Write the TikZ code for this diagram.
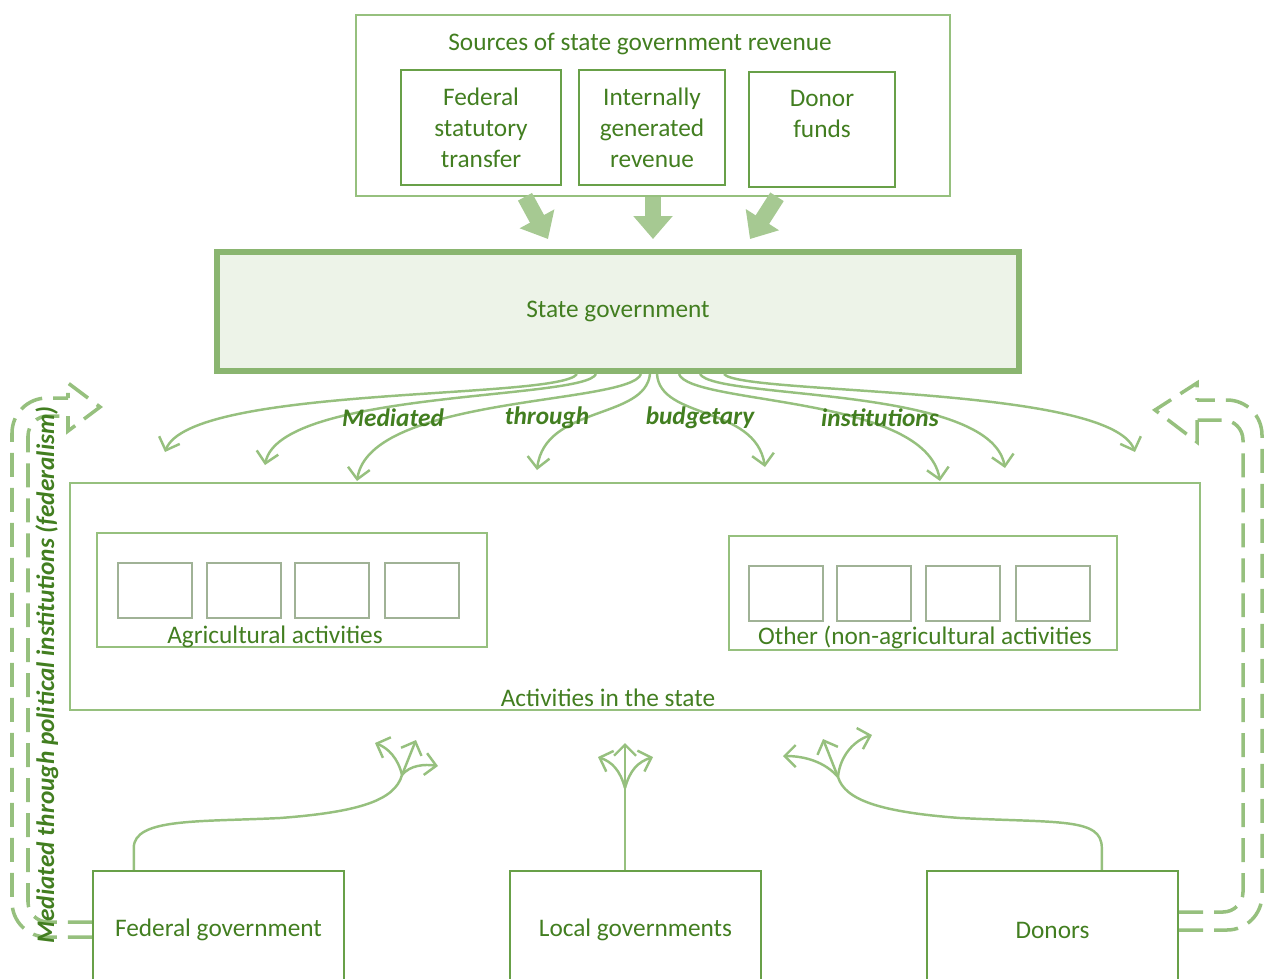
\documentclass[tikz,border=0pt]{standalone}
\usepackage{fontspec}
\setmainfont{Carlito}
\usetikzlibrary{arrows.meta,calc}
\definecolor{txtgreen}{RGB}{66,126,32}
\definecolor{linegreen}{RGB}{104,160,72}
\definecolor{palegreen}{RGB}{150,192,126}
\definecolor{fatgreen}{RGB}{166,201,146}
\definecolor{sgfill}{RGB}{237,243,232}
\definecolor{sgline}{RGB}{138,181,112}
\definecolor{cellgray}{RGB}{160,178,150}
\newcommand\mainfnt{\fontsize{14.4}{17.6}\selectfont}
\tikzset{>={Straight Barb[length=0.22cm,width=0.44cm]}}
\tikzset{
  lbl/.style = {text=txtgreen, font=\mainfnt, inner sep=0},
  medlbl/.style = {text=txtgreen, font=\mainfnt\bfseries\itshape, inner sep=0},
  outerbox/.style = {draw=palegreen, line width=0.9pt, inner sep=0},
  srcbox/.style = {draw=linegreen, line width=1.3pt, align=center, text=txtgreen, font=\mainfnt, inner sep=0},
  sgbox/.style = {draw=sgline, fill=sgfill, line width=3.4pt, text=txtgreen, font=\mainfnt, inner sep=0},
  actbox/.style = {draw=palegreen, line width=0.9pt, inner sep=0},
  cell/.style = {draw=cellgray, line width=0.9pt, minimum width=1.48cm, minimum height=1.1cm, inner sep=0},
  govbox/.style = {draw=linegreen, line width=1.4pt, text=txtgreen, font=\mainfnt, minimum width=5.02cm, minimum height=2.36cm, inner sep=0},
  flow/.style = {draw=palegreen, line width=1.4pt},
  fatarrow/.style = {draw=fatgreen, line width=0.32cm, -{Triangle[length=0.46cm,width=0.76cm]}},
  dasharrow/.style = {draw=palegreen, line width=2pt, dash pattern=on 0.48cm off 0.22cm}
}

\begin{document}
\begin{tikzpicture}[x=0.02cm, y=-0.02cm]
  \useasboundingbox (0,0) rectangle (1269,978);
  % sources of revenue
  \node (src) at (653,105.5) [outerbox, minimum width=11.88cm, minimum height=3.62cm] {};
  \node (srctitle) at (640,44) [lbl] {Sources of state government revenue};
  \node (fst) at (481,127.5) [srcbox, minimum width=3.2cm, minimum height=2.3cm] {Federal\\statutory\\transfer};
  \node (igr) at (652,127.5) [srcbox, minimum width=2.92cm, minimum height=2.3cm] {Internally\\generated\\revenue};
  \node (don) at (822,129.5) [srcbox, minimum width=2.92cm, minimum height=2.3cm] {Donor\\funds\\[-5pt]\strut};
  % state government
  \node (sg) at (618,311.5) [sgbox, minimum width=16.04cm, minimum height=2.38cm] {State government};
  \draw[fatarrow] ($(src.south)+(-128,0)$) -- ($(sg.north)+(-70,-10)$);
  \draw[fatarrow] (src.south) -- ($(sg.north)+(35,-10)$);
  \draw[fatarrow] ($(src.south)+(124,0)$) -- ($(sg.north)+(132,-10)$);
  % activities
  \node (act) at (635,596.5) [actbox, minimum width=22.6cm, minimum height=4.54cm] {};
  \node (actlbl) at (608,698) [lbl] {Activities in the state};
  \node (agr) at (292,590) [actbox, minimum width=7.8cm, minimum height=2.28cm] {};
  \foreach \x [count=\i] in {155,244,332,422}
    \node (agr\i) at (\x,590.5) [cell] {};
  \node (agrlbl) at (275,637) [lbl] {Agricultural activities};
  \node (oth) at (923,593) [actbox, minimum width=7.76cm, minimum height=2.28cm] {};
  \foreach \x [count=\i] in {786,874,963,1053}
    \node (oth\i) at (\x,593.5) [cell] {};
  \node (othlbl) at (925,637) [lbl] {Other (non-agricultural activities};
  % budgetary flows
  \coordinate (tip1) at (165,452);
  \coordinate (tip2) at (265,465);
  \coordinate (tip3) at (357,481);
  \coordinate (tip4) at (537,470);
  \coordinate (tip5) at (765,467);
  \coordinate (tip6) at (940,481);
  \coordinate (tip7) at (1005,468);
  \coordinate (tip8) at (1135,452);
  \draw[flow,->] ($(sg.south)+(-41,0)$) .. controls (560,400) and (190,385) .. (tip1);
  \draw[flow,->] ($(sg.south)+(-22,0)$) .. controls (585,400) and (280,390) .. (tip2);
  \draw[flow,->] ($(sg.south)+(23,0)$) .. controls (630,405) and (370,395) .. (tip3);
  \draw[flow,->] ($(sg.south)+(32,0)$) .. controls (645,420) and (545,405) .. (tip4);
  \draw[flow,->] ($(sg.south)+(39,0)$) .. controls (660,420) and (755,405) .. (tip5);
  \draw[flow,->] ($(sg.south)+(61,0)$) .. controls (690,405) and (925,395) .. (tip6);
  \draw[flow,->] ($(sg.south)+(82,0)$) .. controls (715,400) and (990,385) .. (tip7);
  \draw[flow,->] ($(sg.south)+(106,0)$) .. controls (740,395) and (1110,385) .. (tip8);
  \node (lmed) at (393,418) [medlbl] {Mediated};
  \node (lthr) at (547,418) [medlbl] {through};
  \node (lbud) at (700,418) [medlbl] {budgetary};
  \node (lins) at (880,418) [medlbl] {institutions};
  % other actors
  \node (fg) at (218.5,930) [govbox] {Federal government};
  \node (lg) at (635.5,930) [govbox] {Local governments};
  \node (dn) at (1052.5,930) [govbox] {Donors};
  \coordinate (fgsplit) at (402,775);
  \draw[flow] ($(fg.north west)+(42,0)$) -- ++(0,-22) .. controls +(0,-30) and (200,822) .. (280,818) .. controls (360,812) and (395,800) .. (fgsplit);
  \draw[flow,->] (fgsplit) .. controls (398,758) and (388,748) .. (375,743);
  \draw[flow,->] (fgsplit) -- (416,740);
  \draw[flow,->] (fgsplit) .. controls (410,765) and (425,764) .. (438,766);
  \coordinate (lgsplit) at (625,788);
  \draw[flow] ($(lg.north)+(-10.5,0)$) -- (lgsplit);
  \draw[flow,->] (lgsplit) -- (625,743);
  \draw[flow,->] (lgsplit) .. controls (620,770) and (612,762) .. (598,757);
  \draw[flow,->] (lgsplit) .. controls (630,770) and (638,762) .. (653,757);
  \coordinate (dnsplit) at (838,777);
  \draw[flow] ($(dn.north west)+(176,0)$) -- ++(0,-22) .. controls +(0,-30) and (1060,823) .. (960,818) .. controls (880,812) and (845,800) .. (dnsplit);
  \draw[flow,->] (dnsplit) .. controls (825,762) and (805,756) .. (783,756);
  \draw[flow,->] (dnsplit) -- (823,739);
  \draw[flow,->] (dnsplit) .. controls (840,755) and (855,740) .. (872,735);
  % political institutions
  \draw[dasharrow, rounded corners=0.4cm] ($(fg.west)+(0,-8)$) -- (28,922) -- (28,416) -- (68,416);
  \draw[dasharrow, rounded corners=0.7cm] ($(fg.west)+(0,7)$) -- (12,937) -- (12,398) -- (68,398);
  \draw[dasharrow] (68,416) -- (68,431) -- (100,407) -- (68,383) -- (68,398);
  \draw[dasharrow, rounded corners=0.4cm] ($(dn.east)+(0,-18)$) -- (1243,912) -- (1243,420) -- (1197,420);
  \draw[dasharrow, rounded corners=0.7cm] (dn.east) -- (1262,930) -- (1262,400) -- (1197,400);
  \draw[dasharrow] (1197,420) -- (1197,442) -- (1155,410) -- (1197,383) -- (1197,400);
  \node (fedlbl) at (47,675) [medlbl, rotate=90] {Mediated through political institutions (federalism)};
\end{tikzpicture}
\end{document}
